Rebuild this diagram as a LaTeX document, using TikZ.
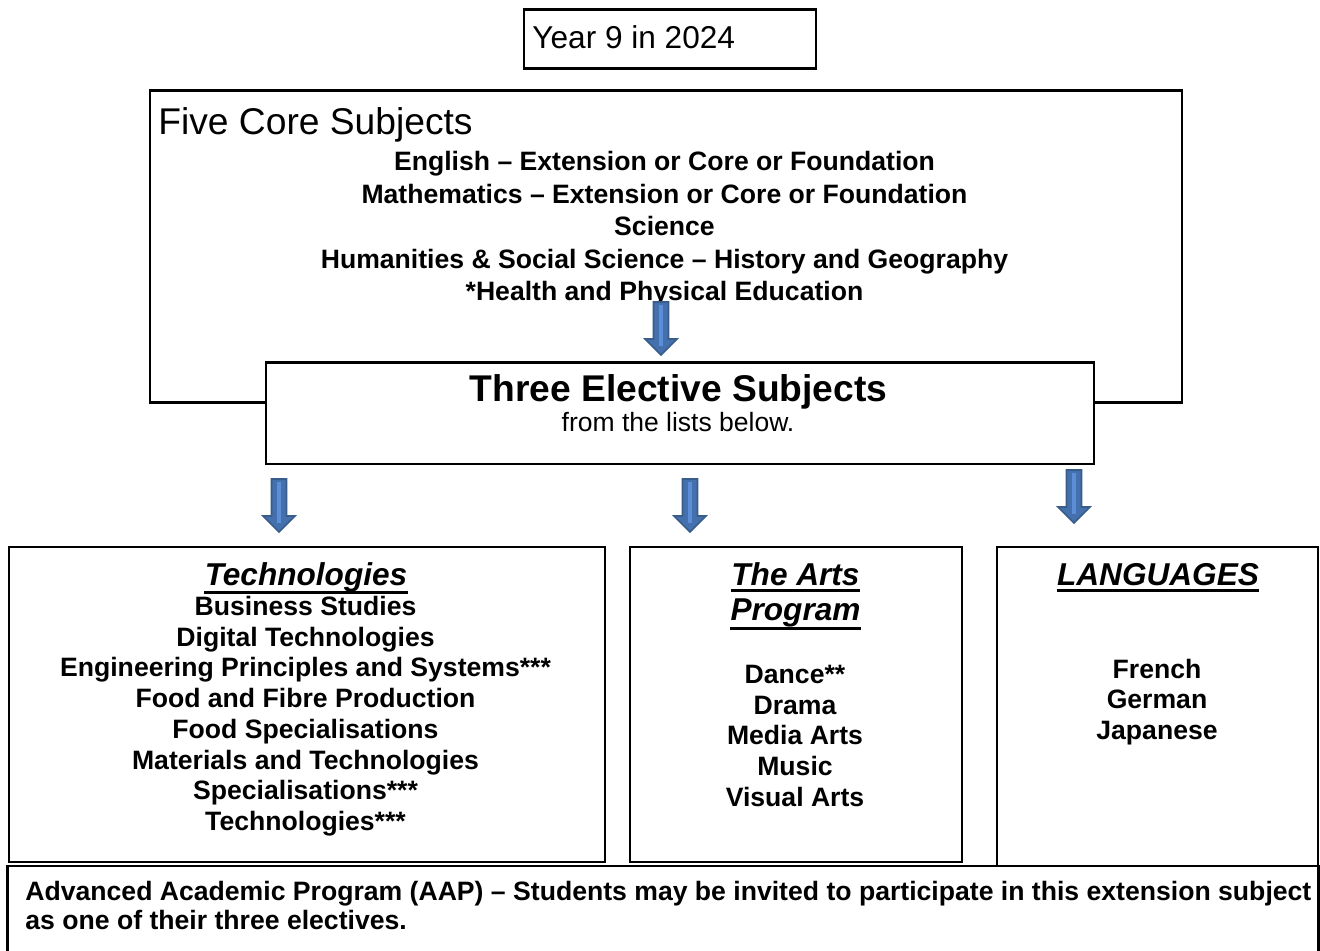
\documentclass[tikz,border=0pt]{standalone}
\usepackage{fontspec}
\setmainfont{Liberation Sans}
\definecolor{arrfill}{HTML}{4470AD}
\definecolor{arrline}{HTML}{385D8A}
\definecolor{arrlight}{HTML}{5B8ED6}
\tikzset{
  box/.style={draw, line width=1.4pt, inner sep=0pt, anchor=north west, fill=white},
  txt/.style={anchor=base, inner sep=0pt},
  corefont/.style={txt, font=\bfseries\fontsize{13.3}{16}\selectfont},
  titlefont/.style={txt, font=\bfseries\itshape\fontsize{15.8}{19}\selectfont},
  uline/.style={line width=1.5pt},
  blockarrow/.pic={
    \draw[fill=arrfill, draw=arrline, line width=0.8pt, line join=miter]
      (-7.5,0) -- (7.5,0) -- (7.5,37) -- (16,37) -- (0,53) -- (-16,37) -- (-7.5,37) -- cycle;
    \fill[arrlight] (-2,3) rectangle (2,44);
  }
}
\begin{document}
\begin{tikzpicture}[x=0.5pt,y=-0.5pt]
\useasboundingbox (0,0) rectangle (1320,951);
\clip (0,0) rectangle (1320,951);
\fill[white] (0,0) rectangle (1320,951);

% Year box
\node[box, minimum width=146pt, minimum height=29.5pt] (year) at (522.5,8.5) {};
\node[txt, anchor=base west, font=\fontsize{15.8}{19}\selectfont] (yeart) at (532,49) {Year 9 in 2024};

% Core box
\node[box, minimum width=516pt, minimum height=156pt] (core) at (148.5,89.5) {};
\node[txt, anchor=base west, font=\fontsize{18.6}{22}\selectfont] (coret) at (158,135) {Five Core Subjects};
\foreach \t [count=\i] in {{English – Extension or Core or Foundation},{Mathematics – Extension or Core or Foundation},{Science},{Humanities \& Social Science – History and Geography},{*Health and Physical Education}}{
  \node[corefont] (c\i) at (664.5,{171+32.5*(\i-1)}) {\t};
}
\pic (a1) at (661,302) {blockarrow};

% Elective box
\node[box, minimum width=414pt, minimum height=50.5pt] (elect) at (264.5,361.5) {};
\node[txt, font=\bfseries\fontsize{18.6}{22}\selectfont] (electt) at (678.5,401.5) {Three Elective Subjects};
\node[txt, font=\fontsize{13.25}{16}\selectfont] (elects) at (678,431) {from the lists below.};

% arrows
\pic (a2) at (279,479) {blockarrow};
\pic (a3) at (690,479) {blockarrow};
\pic (a4) at (1074,470) {blockarrow};

% Technologies
\node[box, minimum width=298pt, minimum height=157.5pt] (tech) at (7.5,545.5) {};
\node[titlefont] (techt) at (306,585) {Technologies};
\draw[uline] (techt.base west |- 0,592) -- (techt.base east |- 0,592);
\foreach \t [count=\i] in {{Business Studies},{Digital Technologies},{Engineering Principles and Systems***},{Food and Fibre Production},{Food Specialisations},{Materials and Technologies},{Specialisations***},{Technologies***}}{
  \node[corefont] (t\i) at (305.5,{615.5+30.7*(\i-1)}) {\t};
}

% Arts
\node[box, minimum width=166pt, minimum height=157.5pt] (arts) at (628.5,545.5) {};
\node[titlefont] (artst1) at (795.5,585) {The Arts};
\draw[uline] (artst1.base west |- 0,590.5) -- (artst1.base east |- 0,590.5);
\node[titlefont] (artst2) at (795.5,620) {Program};
\draw[uline] (artst2.base west |- 0,628.5) -- (artst2.base east |- 0,628.5);
\foreach \t [count=\i] in {{Dance**},{Drama},{Media Arts},{Music},{Visual Arts}}{
  \node[corefont] (r\i) at (795,{683.5+30.7*(\i-1)}) {\t};
}

% Languages
\node[box, minimum width=160.5pt, minimum height=159.5pt] (lang) at (995.5,545.5) {};
\node[titlefont] (langt) at (1158,585) {LANGUAGES};
\draw[uline] (langt.base west |- 0,590.5) -- (langt.base east |- 0,590.5);
\foreach \t [count=\i] in {{French},{German},{Japanese}}{
  \node[corefont] (l\i) at (1157,{678+30.5*(\i-1)}) {\t};
}

% AAP
\node[box, minimum width=655.5pt, minimum height=48pt] (aap) at (6,864.5) {};
\node[corefont, anchor=base west] (aap1) at (25,900.5) {Advanced Academic Program (AAP) – Students may be invited to participate in this extension subject};
\node[corefont, anchor=base west] (aap2) at (25,929.5) {as one of their three electives.};
\end{tikzpicture}
\end{document}
